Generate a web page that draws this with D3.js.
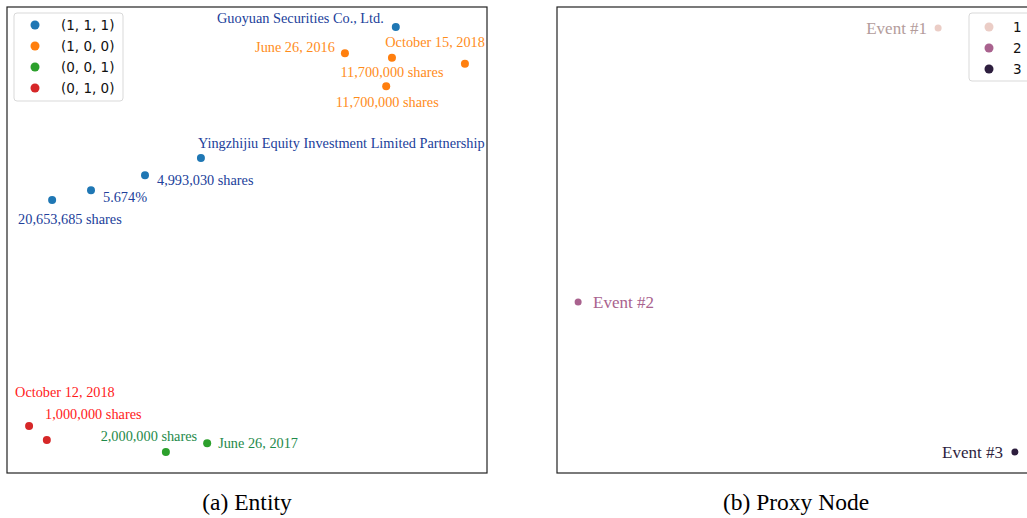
<!DOCTYPE html>
<html>
<head>
<meta charset="utf-8">
<script src="https://cdn.jsdelivr.net/npm/d3@7.9.0/dist/d3.min.js"></script>
<style>
  body { margin: 0; background: #fff; overflow: hidden; }
  svg { display: block; }
</style>
</head>
<body>
<svg id="chart" width="1027" height="518"></svg>
<script>
// Panel (a) Entity: embedding coordinates per group
const entityGroups = ['(1, 1, 1)', '(1, 0, 0)', '(0, 0, 1)', '(0, 1, 0)'];
const entityX = [
  [81.0, 40.4, 28.75, 17.5, 9.4],
  [70.4, 80.2, 95.4, 79.0],
  [33.1, 41.7],
  [4.6, 8.3]
];
const entityY = [
  [95.7, 67.6, 63.9, 60.7, 58.6],
  [90.1, 89.1, 87.8, 83.0],
  [4.5, 6.4],
  [10.1, 7.1]
];
const entityLabels = [
  ['Guoyuan Securities Co., Ltd.', 'Yingzhijiu Equity Investment Limited Partnership', '4,993,030 shares', '5.674%', '20,653,685 shares'],
  ['June 26, 2016', '11,700,000 shares', 'October 15, 2018', '11,700,000 shares'],
  ['2,000,000 shares', 'June 26, 2017'],
  ['October 12, 2018', '1,000,000 shares']
];

// Panel (b) Proxy Node
const proxyHue = ['1', '2', '3'];
const proxyX = [79.4, 4.4, 95.4];
const proxyY = [95.5, 36.7, 4.5];
const proxyLabels = ['Event #1', 'Event #2', 'Event #3'];

// styles
const groupColors = ['#1f77b4', '#ff7f0e', '#2ca02c', '#d62728'];
const labelColors = ['#21409a', '#ff8c1a', '#1e8a4a', '#ff1a1a'];
const proxyColors = ['#ebcdc6', '#a9628e', '#2d1e3e'];
const proxyLabelColors = ['#b39c9b', '#a9628e', '#2d1e3e'];

// label placement: [anchor, dx, dy] relative to its point
const entityLabelPos = [
  [['end', -12, -9], ['start', -3, -15], ['start', 12, 5], ['start', 12, 7], ['start', -34, 19]],
  [['end', -10, -6], ['middle', 0, 14], ['end', 20, -22], ['middle', 1, 16]],
  [['middle', -17, -16], ['start', 11, 0]],
  [['start', -14, -34], ['start', 16, -12]]
];
// the second red label belongs to the first red point
const entityLabelPoint = [[0, 1, 2, 3, 4], [0, 1, 2, 3], [0, 1], [0, 0]];
const proxyLabelPos = [['end', -11, 0], ['start', 15, 0], ['end', -12, 0]];

const svg = d3.select('#chart');
const serif = '"Liberation Serif", "Times New Roman", serif';
const sans = '"DejaVu Sans", sans-serif';

const panelW = 480, panelH = 466, panelTop = 7;
const panelLeft = [7, 557];

function makeScales(x0) {
  return {
    x: d3.scaleLinear().domain([0, 100]).range([x0, x0 + panelW]),
    y: d3.scaleLinear().domain([0, 100]).range([panelTop + panelH, panelTop])
  };
}

// ---- Panel (a)
const sa = makeScales(panelLeft[0]);
const ga = svg.append('g');
ga.append('rect')
  .attr('x', sa.x(0)).attr('y', panelTop)
  .attr('width', panelW).attr('height', panelH)
  .attr('fill', 'none').attr('stroke', '#222').attr('stroke-width', 1.2);

entityGroups.forEach((grp, gi) => {
  entityX[gi].forEach((xv, i) => {
    ga.append('circle')
      .attr('cx', sa.x(xv)).attr('cy', sa.y(entityY[gi][i])).attr('r', 4)
      .attr('fill', groupColors[gi]);
  });
});

entityGroups.forEach((grp, gi) => {
  entityLabels[gi].forEach((txt, i) => {
    const pos = entityLabelPos[gi][i];
    const p = entityLabelPoint[gi][i];
    ga.append('text')
      .attr('x', sa.x(entityX[gi][p]) + pos[1])
      .attr('y', sa.y(entityY[gi][p]) + pos[2])
      .attr('dy', '0.35em')
      .attr('text-anchor', pos[0])
      .attr('font-family', serif).attr('font-size', 14.3)
      .attr('fill', labelColors[gi])
      .text(txt);
  });
});

// legend (a)
const la = ga.append('g').attr('transform', 'translate(14,13)');
la.append('rect').attr('width', 109).attr('height', 88).attr('rx', 3)
  .attr('fill', '#fff').attr('stroke', '#d9d9d9');
entityGroups.forEach((grp, gi) => {
  const y = 12 + gi * 21;
  la.append('circle').attr('cx', 21).attr('cy', y).attr('r', 4.5).attr('fill', groupColors[gi]);
  la.append('text').attr('x', 47).attr('y', y).attr('dy', '0.35em')
    .attr('font-family', sans).attr('font-size', 13.5).attr('fill', '#111')
    .text(grp);
});

// ---- Panel (b)
const sb = makeScales(panelLeft[1]);
const gb = svg.append('g');
gb.append('rect')
  .attr('x', sb.x(0)).attr('y', panelTop)
  .attr('width', panelW).attr('height', panelH)
  .attr('fill', 'none').attr('stroke', '#222').attr('stroke-width', 1.2);

proxyHue.forEach((h, i) => {
  const cx = sb.x(proxyX[i]), cy = sb.y(proxyY[i]);
  gb.append('circle').attr('cx', cx).attr('cy', cy).attr('r', 3.5).attr('fill', proxyColors[i]);
  const pos = proxyLabelPos[i];
  gb.append('text')
    .attr('x', cx + pos[1]).attr('y', cy + pos[2]).attr('dy', '0.35em')
    .attr('text-anchor', pos[0])
    .attr('font-family', serif).attr('font-size', 17)
    .attr('fill', proxyLabelColors[i])
    .text(proxyLabels[i]);
});

const lb = gb.append('g').attr('transform', 'translate(969,13)');
lb.append('rect').attr('width', 80).attr('height', 68).attr('rx', 3)
  .attr('fill', '#fff').attr('stroke', '#d9d9d9');
proxyHue.forEach((h, i) => {
  const y = 14 + i * 21;
  lb.append('circle').attr('cx', 20).attr('cy', y).attr('r', 4.5).attr('fill', proxyColors[i]);
  lb.append('text').attr('x', 44).attr('y', y).attr('dy', '0.35em')
    .attr('font-family', sans).attr('font-size', 13.5).attr('fill', '#111')
    .text(h);
});

// captions
const captions = ['(a) Entity', '(b) Proxy Node'];
const captionX = [247, 796];
captions.forEach((c, i) => {
  svg.append('text')
    .attr('x', captionX[i]).attr('y', 510)
    .attr('text-anchor', 'middle')
    .attr('font-family', serif).attr('font-size', 23.5).attr('fill', '#000')
    .text(c);
});
</script>
</body>
</html>
